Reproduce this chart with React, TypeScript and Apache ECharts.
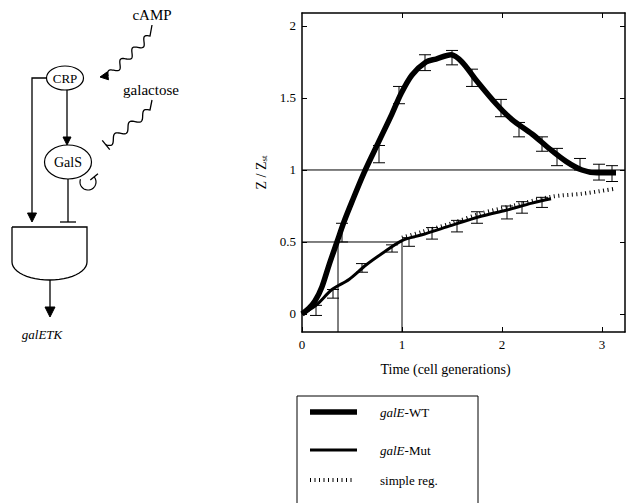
import React, { useEffect, useRef } from 'react';
import * as echarts from 'echarts';

// ---- data ----
const xTicks = [0, 1, 2, 3];
const xTopTicks = [1, 2, 3];
const yTicks = [0, 0.5, 1, 1.5, 2];

const wtData = [
  [0, 0], [0.07, 0.04], [0.13, 0.09], [0.2, 0.19], [0.27, 0.34], [0.35, 0.5], [0.42, 0.64],
  [0.5, 0.78], [0.62, 0.98], [0.77, 1.2], [0.9, 1.39], [0.99, 1.53], [1.1, 1.66], [1.24, 1.75],
  [1.34, 1.77], [1.49, 1.8], [1.6, 1.75], [1.74, 1.625], [1.94, 1.46], [2.1, 1.35], [2.3, 1.25],
  [2.47, 1.15], [2.64, 1.06], [2.8, 1.0], [2.95, 0.98], [3.14, 0.98],
];
const mutData = [
  [0, 0], [0.14, 0.06], [0.3, 0.17], [0.47, 0.24], [0.64, 0.34], [0.8, 0.42], [1.0, 0.51],
  [1.2, 0.55], [1.47, 0.61], [1.8, 0.68], [2.04, 0.72], [2.3, 0.77], [2.49, 0.8],
];
const simpleRegData = [
  [1.0, 0.53], [1.2, 0.57], [1.5, 0.63], [1.8, 0.7], [2.1, 0.75], [2.5, 0.815], [2.8, 0.835], [3.13, 0.87],
];
const wtErr = [
  [0.4, 0.5, 0.63], [0.77, 1.05, 1.17], [0.97, 1.46, 1.58], [1.23, 1.69, 1.8], [1.5, 1.73, 1.83],
  [1.7, 1.58, 1.7], [1.99, 1.37, 1.49], [2.17, 1.23, 1.33], [2.4, 1.13, 1.23], [2.55, 1.03, 1.15],
  [2.78, 1.0, 1.08], [2.97, 0.93, 1.04], [3.1, 0.92, 1.03],
];
const mutErr = [
  [0.14, -0.01, 0.06], [0.31, 0.11, 0.17], [0.6, 0.29, 0.35], [0.9, 0.43, 0.48], [1.07, 0.47, 0.53],
  [1.3, 0.52, 0.6], [1.55, 0.57, 0.65], [1.75, 0.63, 0.71], [2.05, 0.66, 0.75], [2.2, 0.7, 0.78],
  [2.4, 0.74, 0.81],
];
const guideY1 = [[0, 1], [3.23, 1]];
const guideY05 = [[0, 0.5], [1, 0.5]];
const guideXa = [[0.36, -0.125], [0.36, 0.5]];
const guideXb = [[1, -0.125], [1, 0.5]];

const legendNames = ['{i|galE}-WT', '{i|galE}-Mut', 'simple reg.'];

const FONT = '"Liberation Serif", "Times New Roman", serif';

// ---- diagram helpers ----
function wave(x0: number, y0: number, x1: number, y1: number, waves: number, amp: number) {
  const dx = x1 - x0, dy = y1 - y0;
  const L = Math.hypot(dx, dy);
  const nx = -dy / L, ny = dx / L;
  const pts: number[][] = [];
  const n = 80;
  for (let i = 0; i <= n; i++) {
    const t = i / n;
    const s = amp * Math.sin(t * waves * 2 * Math.PI);
    pts.push([x0 + dx * t + nx * s, y0 + dy * t + ny * s]);
  }
  return pts;
}
function arrowHead(tx: number, ty: number, dx: number, dy: number, len = 8, half = 4) {
  const L = Math.hypot(dx, dy);
  const ux = dx / L, uy = dy / L;
  const bx = tx - ux * len, by = ty - uy * len;
  return {
    type: 'polygon',
    shape: { points: [[tx, ty], [bx - uy * half, by + ux * half], [bx + uy * half, by - ux * half]] },
    style: { fill: '#000', stroke: '#000', lineWidth: 1 },
  };
}
function tBar(cx: number, cy: number, dx: number, dy: number, half = 6) {
  const L = Math.hypot(dx, dy);
  const px = -dy / L, py = dx / L;
  return {
    type: 'line',
    shape: { x1: cx - px * half, y1: cy - py * half, x2: cx + px * half, y2: cy + py * half },
    style: { stroke: '#000', lineWidth: 1.3 },
  };
}
function line(x1: number, y1: number, x2: number, y2: number, w = 1.3) {
  return { type: 'line', shape: { x1, y1, x2, y2 }, style: { stroke: '#000', lineWidth: w } };
}
function text(x: number, y: number, t: string, size = 15, italic = false, align = 'center') {
  return {
    type: 'text', x, y,
    style: {
      text: t, fontSize: size, fontFamily: FONT, fontStyle: italic ? 'italic' : 'normal',
      fill: '#000', align, verticalAlign: 'middle',
      rich: { i: { fontStyle: 'italic', fontSize: size, fontFamily: FONT } },
    },
  };
}

function buildDiagram() {
  const els: any[] = [];
  // cAMP
  els.push(text(152, 15, 'cAMP', 15));
  const w1 = [[152, 25], ...wave(150, 36, 108, 76, 3.5, 3.5)];
  els.push({ type: 'polyline', shape: { points: w1 }, style: { stroke: '#000', lineWidth: 1.3, fill: 'none' } });
  els.push(arrowHead(100, 77, -1, 0.15, 8, 4));
  // CRP
  els.push({ type: 'ellipse', shape: { cx: 65, cy: 78, rx: 18.5, ry: 12 }, style: { fill: '#fff', stroke: '#000', lineWidth: 1.2 } });
  els.push(text(65, 78, 'CRP', 13));
  // galactose
  els.push(text(151, 90, 'galactose', 15));
  const w2 = [[152, 100], ...wave(150, 110, 106, 145, 3, 3.5)];
  els.push({ type: 'polyline', shape: { points: w2 }, style: { stroke: '#000', lineWidth: 1.3, fill: 'none' } });
  els.push(tBar(106, 145, -44, 35, 6));
  // CRP -> GalS
  els.push(line(67, 90, 67, 138));
  els.push(arrowHead(67, 145, 0, 1, 8, 4));
  // GalS
  els.push({ type: 'ellipse', shape: { cx: 68, cy: 162, rx: 23.5, ry: 17 }, style: { fill: '#fff', stroke: '#000', lineWidth: 1.2 } });
  els.push(text(68, 162, 'GalS', 14));
  // self loop
  const loop: number[][] = [];
  for (let a = 200; a >= -40; a -= 8) {
    const r = (a * Math.PI) / 180;
    loop.push([88 + 8 * Math.cos(r), 182 + 8 * Math.sin(r)]);
  }
  els.push({ type: 'polyline', shape: { points: loop }, style: { stroke: '#000', lineWidth: 1.2, fill: 'none' } });
  const end = loop[loop.length - 1];
  els.push(tBar(end[0], end[1], -0.64, -0.77, 5));
  // GalS -| gate
  els.push(line(68, 179, 68, 222));
  els.push(line(60, 222, 76, 222, 1.3));
  // CRP -> gate
  els.push({ type: 'polyline', shape: { points: [[47, 78], [32, 78], [32, 214]] }, style: { stroke: '#000', lineWidth: 1.3, fill: 'none' } });
  els.push(arrowHead(32, 222, 0, 1, 9, 4.5));
  // gate
  const gate: number[][] = [[12, 227], [87, 227], [87, 262]];
  for (let i = 0; i <= 24; i++) {
    const t = (i / 24) * Math.PI;
    gate.push([49.5 + 37.5 * Math.cos(t), 262 + 18 * Math.sin(t)]);
  }
  gate.push([12, 227]);
  els.push({ type: 'polyline', shape: { points: gate }, style: { stroke: '#000', lineWidth: 1.3, fill: 'none' } });
  // output
  els.push(line(50, 280, 50, 308));
  els.push(arrowHead(50, 317, 0, 1, 10, 5));
  els.push(text(42, 334, 'galETK', 13, true));
  return els;
}

function buildLegend() {
  const els: any[] = [];
  els.push({
    type: 'polyline',
    shape: { points: [[297, 503], [297, 396], [478, 396], [478, 503]] },
    style: { stroke: '#000', lineWidth: 1, fill: 'none' },
  });
  els.push(line(310, 412, 357, 412, 5.5));
  els.push(line(310, 450, 357, 450, 3));
  els.push({
    type: 'line', shape: { x1: 310, y1: 480, x2: 352, y2: 480 },
    style: { stroke: '#000', lineWidth: 4, lineDash: [1, 3.5] },
  });
  els.push(text(380, 412, legendNames[0], 13, false, 'left'));
  els.push(text(380, 450, legendNames[1], 13, false, 'left'));
  els.push(text(380, 480, legendNames[2], 13, false, 'left'));
  return els;
}

function errRender(params: any, api: any) {
  const x = api.value(0), lo = api.value(1), hi = api.value(2);
  const p1 = api.coord([x, lo]);
  const p2 = api.coord([x, hi]);
  const w = 6;
  const st = { stroke: '#000', lineWidth: 1 };
  return {
    type: 'group',
    children: [
      { type: 'line', shape: { x1: p1[0], y1: p1[1], x2: p2[0], y2: p2[1] }, style: st },
      { type: 'line', shape: { x1: p1[0] - w, y1: p1[1], x2: p1[0] + w, y2: p1[1] }, style: st },
      { type: 'line', shape: { x1: p2[0] - w, y1: p2[1], x2: p2[0] + w, y2: p2[1] }, style: st },
    ],
  };
}

const axisLineStyle = { color: '#000', width: 1.5 };
const labelStyle = { color: '#000', fontSize: 13, fontFamily: FONT };

function guide(data: number[][]) {
  return {
    type: 'line', data, symbol: 'none', silent: true, z: 1,
    lineStyle: { color: '#000', width: 1 },
  };
}

export default function App() {
  const ref = useRef<HTMLDivElement>(null);
  useEffect(() => {
    if (!ref.current) return;
    const chart = echarts.init(ref.current, undefined, { renderer: 'svg' });
    chart.setOption({
      animation: false,
      backgroundColor: '#fff',
      grid: { left: 302, right: 1, top: 13, bottom: 171 },
      xAxis: [
        {
          type: 'value', min: 0, max: 3.23, position: 'bottom',
          axisLine: { onZero: false, lineStyle: axisLineStyle },
          axisTick: { inside: true, length: 5, customValues: xTicks, lineStyle: { color: '#000' } },
          axisLabel: { customValues: xTicks, margin: 6, ...labelStyle },
          splitLine: { show: false },
          name: 'Time (cell generations)', nameLocation: 'middle', nameGap: 30,
          nameTextStyle: { color: '#000', fontSize: 14, fontFamily: FONT, padding: [0, 36, 0, 0] },
        },
        {
          type: 'value', min: 0, max: 3.23, position: 'top',
          axisLine: { onZero: false, lineStyle: axisLineStyle },
          axisTick: { inside: true, length: 5, customValues: xTopTicks, lineStyle: { color: '#000' } },
          axisLabel: { show: false },
          splitLine: { show: false },
        },
      ],
      yAxis: [
        {
          type: 'value', min: -0.125, max: 2.09, position: 'left',
          axisLine: { onZero: false, lineStyle: axisLineStyle },
          axisTick: { inside: true, length: 5, customValues: yTicks, lineStyle: { color: '#000' } },
          axisLabel: { customValues: yTicks, margin: 6, ...labelStyle },
          splitLine: { show: false },
          name: '{n|Z / Z}{s|st}', nameLocation: 'middle', nameGap: 29, nameRotate: 90,
          nameTextStyle: {
            color: '#000', fontFamily: FONT,
            rich: {
              n: { fontSize: 14, fontFamily: FONT, color: '#000' },
              s: { fontSize: 9, fontFamily: FONT, color: '#000', verticalAlign: 'bottom', padding: [6, 0, 0, 0] },
            },
          },
        },
        {
          type: 'value', min: -0.125, max: 2.09, position: 'right',
          axisLine: { onZero: false, lineStyle: axisLineStyle },
          axisTick: { inside: true, length: 5, customValues: yTicks, lineStyle: { color: '#000' } },
          axisLabel: { show: false },
          splitLine: { show: false },
        },
      ],
      series: [
        guide(guideY1), guide(guideY05), guide(guideXa), guide(guideXb),
        {
          type: 'line', data: simpleRegData, symbol: 'none', smooth: 0.3, z: 2,
          lineStyle: { color: '#000', width: 4, type: [1, 3.5], cap: 'butt' },
        },
        {
          type: 'line', data: mutData, symbol: 'none', smooth: 0.3, z: 3,
          lineStyle: { color: '#000', width: 3 },
        },
        {
          type: 'line', data: wtData, symbol: 'none', smooth: 0.3, z: 4,
          lineStyle: { color: '#000', width: 5.5 },
        },
        {
          type: 'custom', data: wtErr, renderItem: errRender, encode: { x: 0, y: [1, 2] }, z: 5,
        },
        {
          type: 'custom', data: mutErr, renderItem: errRender, encode: { x: 0, y: [1, 2] }, z: 5,
        },
      ],
      graphic: [...buildDiagram(), ...buildLegend()],
    });
    return () => chart.dispose();
  }, []);
  return <div ref={ref} style={{ position: 'absolute', left: 0, top: 0, width: 626, height: 503 }} />;
}
